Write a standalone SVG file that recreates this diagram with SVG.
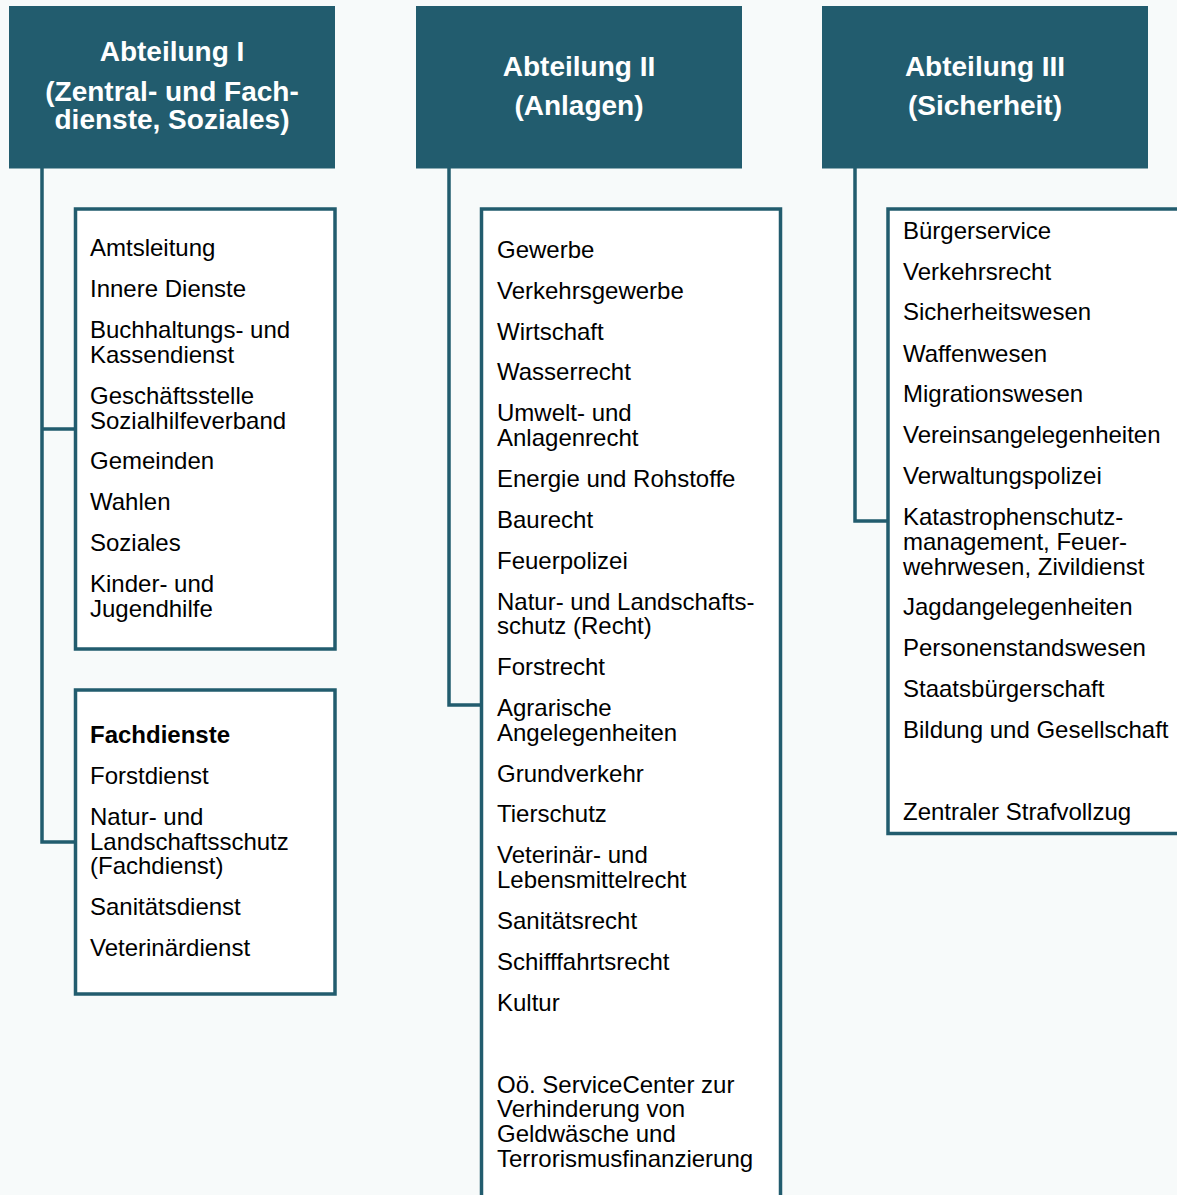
<svg xmlns="http://www.w3.org/2000/svg" width="1177" height="1195" viewBox="0 0 1177 1195">
<style>
.hdr{fill:#225c6e}
.box{fill:#ffffff;stroke:#225c6e;stroke-width:3.5}
.ln{fill:none;stroke:#225c6e;stroke-width:3.5}
.ht{font-family:"Liberation Sans",Arial,sans-serif;font-weight:bold;font-size:28px;fill:#ffffff;text-anchor:middle}
.t{font-family:"Liberation Sans",Arial,sans-serif;font-size:24px;fill:#000000}
.b{font-weight:bold}
</style>
<rect x="0" y="0" width="1177" height="1195" fill="#f7fafa"/>
<g id="connectors">
<path class="ln" d="M42,168 V842 H75 M42,429 H75"/>
<path class="ln" d="M449,168 V705 H481"/>
<path class="ln" d="M855,168 V521 H888"/>
</g>
<g id="abt1">
<rect class="hdr" x="9" y="6" width="326" height="162.5"/>
<text class="ht" x="172" y="61">Abteilung I</text>
<text class="ht" x="172" y="101">(Zentral- und Fach-</text>
<text class="ht" x="172" y="129">dienste, Soziales)</text>
</g>
<g id="abt2">
<rect class="hdr" x="416" y="6" width="326" height="162.5"/>
<text class="ht" x="579" y="76">Abteilung II</text>
<text class="ht" x="579" y="115">(Anlagen)</text>
</g>
<g id="abt3">
<rect class="hdr" x="822" y="6" width="326" height="162.5"/>
<text class="ht" x="985" y="76">Abteilung III</text>
<text class="ht" x="985" y="115">(Sicherheit)</text>
</g>
<g id="zentral">
<rect class="box" x="75.5" y="209" width="259.5" height="440"/>
<text class="t" x="90" y="256">Amtsleitung</text>
<text class="t" x="90" y="297">Innere Dienste</text>
<text class="t" x="90" y="338">Buchhaltungs- und</text>
<text class="t" x="90" y="363">Kassendienst</text>
<text class="t" x="90" y="404">Geschäftsstelle</text>
<text class="t" x="90" y="429">Sozialhilfeverband</text>
<text class="t" x="90" y="469">Gemeinden</text>
<text class="t" x="90" y="510">Wahlen</text>
<text class="t" x="90" y="551">Soziales</text>
<text class="t" x="90" y="592">Kinder- und</text>
<text class="t" x="90" y="617">Jugendhilfe</text>
</g>
<g id="fachdienste">
<rect class="box" x="75.5" y="690" width="259.5" height="304"/>
<text class="t b" x="90" y="743">Fachdienste</text>
<text class="t" x="90" y="784">Forstdienst</text>
<text class="t" x="90" y="825">Natur- und</text>
<text class="t" x="90" y="850">Landschaftsschutz</text>
<text class="t" x="90" y="874">(Fachdienst)</text>
<text class="t" x="90" y="915">Sanitätsdienst</text>
<text class="t" x="90" y="956">Veterinärdienst</text>
</g>
<g id="anlagen">
<rect class="box" x="481.5" y="209" width="299" height="1010"/>
<text class="t" x="497" y="258">Gewerbe</text>
<text class="t" x="497" y="299">Verkehrsgewerbe</text>
<text class="t" x="497" y="340">Wirtschaft</text>
<text class="t" x="497" y="380">Wasserrecht</text>
<text class="t" x="497" y="421">Umwelt- und</text>
<text class="t" x="497" y="446">Anlagenrecht</text>
<text class="t" x="497" y="487">Energie und Rohstoffe</text>
<text class="t" x="497" y="528">Baurecht</text>
<text class="t" x="497" y="569">Feuerpolizei</text>
<text class="t" x="497" y="610">Natur- und Landschafts-</text>
<text class="t" x="497" y="634">schutz (Recht)</text>
<text class="t" x="497" y="675">Forstrecht</text>
<text class="t" x="497" y="716">Agrarische</text>
<text class="t" x="497" y="741">Angelegenheiten</text>
<text class="t" x="497" y="782">Grundverkehr</text>
<text class="t" x="497" y="822">Tierschutz</text>
<text class="t" x="497" y="863">Veterinär- und</text>
<text class="t" x="497" y="888">Lebensmittelrecht</text>
<text class="t" x="497" y="929">Sanitätsrecht</text>
<text class="t" x="497" y="970">Schifffahrtsrecht</text>
<text class="t" x="497" y="1011">Kultur</text>
<text class="t" x="497" y="1093">Oö. ServiceCenter zur</text>
<text class="t" x="497" y="1117">Verhinderung von</text>
<text class="t" x="497" y="1142">Geldwäsche und</text>
<text class="t" x="497" y="1167">Terrorismusfinanzierung</text>
</g>
<g id="sicherheit">
<rect class="box" x="888" y="209" width="310" height="624.5"/>
<text class="t" x="903" y="239">Bürgerservice</text>
<text class="t" x="903" y="280">Verkehrsrecht</text>
<text class="t" x="903" y="320">Sicherheitswesen</text>
<text class="t" x="903" y="362">Waffenwesen</text>
<text class="t" x="903" y="402">Migrationswesen</text>
<text class="t" x="903" y="443">Vereinsangelegenheiten</text>
<text class="t" x="903" y="484">Verwaltungspolizei</text>
<text class="t" x="903" y="525">Katastrophenschutz-</text>
<text class="t" x="903" y="550">management, Feuer-</text>
<text class="t" x="903" y="575">wehrwesen, Zivildienst</text>
<text class="t" x="903" y="615">Jagdangelegenheiten</text>
<text class="t" x="903" y="656">Personenstandswesen</text>
<text class="t" x="903" y="697">Staatsbürgerschaft</text>
<text class="t" x="903" y="738">Bildung und Gesellschaft</text>
<text class="t" x="903" y="820">Zentraler Strafvollzug</text>
</g>
</svg>
